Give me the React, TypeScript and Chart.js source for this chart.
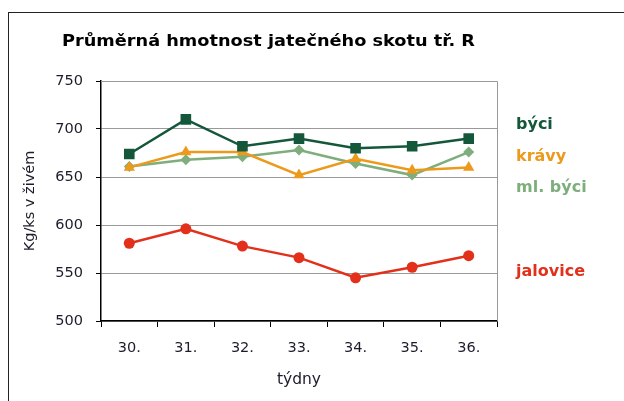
import React, { useEffect, useRef } from "react";
import { Chart, registerables } from "chart.js";

Chart.register(...registerables);

const weeks = ["30.", "31.", "32.", "33.", "34.", "35.", "36."];
const byci = [674, 710, 682, 690, 680, 682, 690];
const kravy = [660, 676, 676, 652, 669, 657, 660];
const mlByci = [661, 668, 671, 678, 664, 652, 676];
const jalovice = [581, 596, 578, 566, 545, 556, 568];

const titleText = "Průměrná hmotnost jatečného skotu tř. R";
const yTitle = "Kg/ks v živém";
const xTitle = "týdny";

const C_BYCI = "#14573a";
const C_KRAVY = "#ec9a1c";
const C_ML = "#7eae7c";
const C_JAL = "#e2301a";

// label vertical offsets (canvas px) for right-side series labels
const labelYs = [111, 143, 174, 258];

export default function App() {
  const ref = useRef<HTMLCanvasElement | null>(null);
  useEffect(() => {
    document.documentElement.style.overflow = "hidden";
    document.body.style.overflow = "hidden";
    if (!ref.current) return;
    const decor = {
      id: "decor",
      beforeDatasetsDraw(chart: any) {
        const { ctx, chartArea } = chart;
        ctx.save();
        ctx.strokeStyle = "#999";
        ctx.lineWidth = 1;
        ctx.beginPath();
        ctx.moveTo(chartArea.left, chartArea.top + 0.5);
        ctx.lineTo(chartArea.right + 0.5, chartArea.top + 0.5);
        ctx.lineTo(chartArea.right + 0.5, chartArea.bottom);
        ctx.stroke();
        ctx.restore();
      },
      afterDraw(chart: any) {
        const { ctx, chartArea } = chart;
        ctx.save();
        ctx.fillStyle = "#000";
        ctx.font = "bold 16px 'DejaVu Sans'";
        ctx.textAlign = "left";
        ctx.textBaseline = "middle";
        ctx.translate(chartArea.left - 39, 28);
        ctx.scale(1.107, 1);
        ctx.fillText(titleText, 0, 0);
        ctx.restore();
        ctx.save();
        ctx.font = "bold 16px 'DejaVu Sans'";
        ctx.textAlign = "left";
        ctx.textBaseline = "middle";
        chart.data.datasets.forEach((ds: any, i: number) => {
          ctx.fillStyle = ds.borderColor;
          ctx.fillText(ds.label, chartArea.right + 19, labelYs[i]);
        });
        ctx.restore();
      },
    };
    const mk = (label: string, data: number[], color: string, style: string, r: number) => ({
      label,
      data,
      borderColor: color,
      backgroundColor: color,
      borderWidth: 2.5,
      pointStyle: style,
      pointRadius: r,
      pointHoverRadius: r,
      pointBorderWidth: 0,
      tension: 0,
    });
    const tickFont = { family: "'DejaVu Sans'", size: 14.5 };
    const chart = new Chart(ref.current, {
      type: "line",
      data: {
        labels: weeks,
        datasets: [
          mk("býci", byci, C_BYCI, "rect", 7.5),
          mk("krávy", kravy, C_KRAVY, "triangle", 6.5),
          mk("ml. býci", mlByci, C_ML, "rectRot", 5.5),
          mk("jalovice", jalovice, C_JAL, "circle", 5.5),
        ],
      },
      options: {
        animation: false,
        responsive: false,
        layout: { padding: { left: 0, right: 127, top: 67, bottom: 0 } },
        plugins: { legend: { display: false }, title: { display: false }, tooltip: { enabled: false } },
        scales: {
          x: {
            offset: true,
            afterFit(s: any) { s.height = 80; },
            grid: { offset: true, drawOnChartArea: false, drawTicks: true, tickLength: 6, tickColor: "#000" },
            border: { color: "#000", width: 1.5 },
            ticks: { color: "#1c1c2c", font: tickFont, padding: 13 },
            title: { display: true, text: xTitle, color: "#1c1c2c", font: { family: "'DejaVu Sans'", size: 15.5 }, padding: { top: 0, bottom: 12 } },
          },
          y: {
            min: 500,
            max: 750,
            afterFit(s: any) { s.width = 92; },
            ticks: { stepSize: 50, color: "#1c1c2c", font: tickFont, padding: 13 },
            grid: { color: "#999", tickColor: "#000", tickLength: 5, lineWidth: 1 },
            border: { color: "#000", width: 1.5 },
            title: { display: true, text: yTitle, color: "#1c1c2c", font: { family: "'DejaVu Sans'", size: 14.5 }, padding: { top: 13, bottom: 0 } },
          },
        },
      },
      plugins: [decor],
    } as any);
    return () => chart.destroy();
  }, []);
  return (
    <div style={{ position: "fixed", left: 8, top: 12, right: -30, bottom: -30, borderTop: "1.5px solid #222", borderLeft: "1.5px solid #222" }}>
      <canvas ref={ref} width={615} height={387} style={{ display: "block", marginTop: 1 }} />
    </div>
  );
}
